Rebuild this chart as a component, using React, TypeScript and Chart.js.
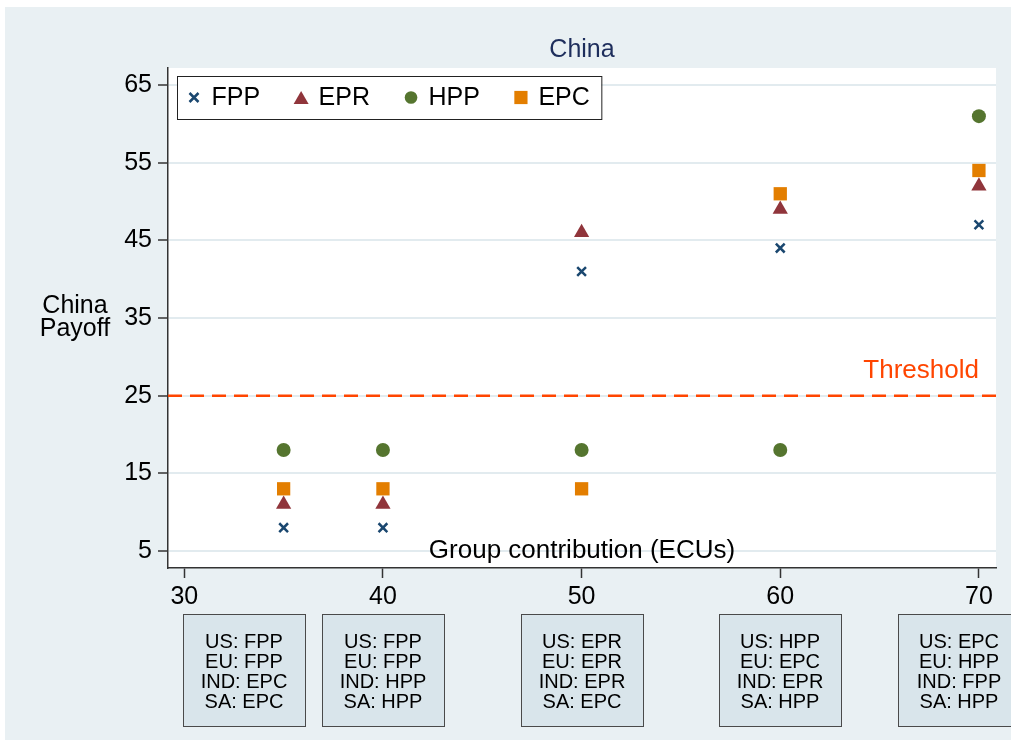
import React, { useEffect, useRef } from 'react';
import { Chart, registerables } from 'chart.js';

Chart.register(...registerables);

// ---------- data ----------
const contributions = [35, 40, 50, 60, 70];
const seriesNames = ['FPP', 'EPR', 'HPP', 'EPC'];
const fppPayoff = [8, 8, 41, 44, 47];
const eprPayoff = [11, 11, 46, 49, 52];
const hppPayoff = [18, 18, 18, 18, 61];
const epcPayoff = [13, 13, 13, 51, 54];
const threshold = 25;
const thresholdLabel = 'Threshold';

const yTickValues = [5, 15, 25, 35, 45, 55, 65];
const xTickValues = [30, 40, 50, 60, 70];
const xRange = [29.18, 70.86];
const yRange = [2.8, 67.2];

const chartTitle = 'China';
const yTitleLines = ['China', 'Payoff'];
const xTitle = 'Group contribution (ECUs)';

// strategy profile boxes under the axis (anchored at x values)
const boxAnchors = [33, 40, 50, 60, 69];
const usChoice = ['FPP', 'FPP', 'EPR', 'HPP', 'EPC'];
const euChoice = ['FPP', 'FPP', 'EPR', 'EPC', 'HPP'];
const indChoice = ['EPC', 'HPP', 'EPR', 'EPR', 'FPP'];
const saChoice = ['EPC', 'HPP', 'EPC', 'HPP', 'HPP'];

// ---------- styles ----------
const FONT = "'Liberation Sans', Arial, Helvetica, sans-serif";
const BG = '#e9f0f3';
const BOX_BG = '#d9e5eb';
const GRID = '#e2ebef';
const AXIS = '#333333';
const C_FPP = '#1a476f';
const C_EPR = '#90353b';
const C_HPP = '#55752f';
const C_EPC = '#e37e00';
const C_THR = '#ff4500';
const C_TITLE = '#1e2e5c';

const toPoints = (ys: number[]) => contributions.map((x, i) => ({ x, y: ys[i] }));

function drawMarker(ctx: CanvasRenderingContext2D, kind: string, x: number, y: number, color: string) {
  ctx.save();
  ctx.fillStyle = color;
  ctx.strokeStyle = color;
  if (kind === 'crossRot') {
    ctx.lineWidth = 2.5;
    const h = 4.5;
    ctx.beginPath();
    ctx.moveTo(x - h, y - h);
    ctx.lineTo(x + h, y + h);
    ctx.moveTo(x - h, y + h);
    ctx.lineTo(x + h, y - h);
    ctx.stroke();
  } else if (kind === 'triangle') {
    ctx.beginPath();
    ctx.moveTo(x, y - 6.5);
    ctx.lineTo(x + 7.5, y + 6.5);
    ctx.lineTo(x - 7.5, y + 6.5);
    ctx.closePath();
    ctx.fill();
  } else if (kind === 'circle') {
    ctx.beginPath();
    ctx.arc(x, y, 6.3, 0, Math.PI * 2);
    ctx.fill();
  } else {
    ctx.fillRect(x - 6.6, y - 6.6, 13.2, 13.2);
  }
  ctx.restore();
}

const decor = {
  id: 'decor',
  beforeDraw(chart: any) {
    const { ctx, chartArea: a, width, height } = chart;
    ctx.save();
    ctx.fillStyle = '#ffffff';
    ctx.fillRect(0, 0, width, height);
    ctx.fillStyle = BG;
    ctx.fillRect(5, 7, width - 5, height - 7);
    ctx.fillStyle = '#ffffff';
    ctx.fillRect(a.left, a.top, a.right - a.left, a.bottom - a.top);
    ctx.restore();
  },
  afterDraw(chart: any) {
    const { ctx, chartArea: a } = chart;
    const xs = chart.scales.x;
    const ys = chart.scales.y;
    const cx = (a.left + a.right) / 2;
    ctx.save();

    // title
    ctx.fillStyle = C_TITLE;
    ctx.font = `25px ${FONT}`;
    ctx.textAlign = 'center';
    ctx.textBaseline = 'alphabetic';
    ctx.fillText(chartTitle, cx, 57);

    // y title
    ctx.fillStyle = '#000';
    ctx.fillText(yTitleLines[0], 75, 313);
    ctx.fillText(yTitleLines[1], 75, 336);

    // x title (inside plot, Stata-style)
    ctx.font = `26px ${FONT}`;
    ctx.fillText(xTitle, cx, 557.5);

    // threshold label
    ctx.fillStyle = C_THR;
    ctx.textAlign = 'right';
    ctx.fillText(thresholdLabel, xs.getPixelForValue(70), ys.getPixelForValue(threshold) - 18);

    // legend
    const kinds = chart.data.datasets.filter((d: any) => d.legendKind).map((d: any) => ({ kind: d.legendKind, color: d.legendColor, label: d.label }));
    ctx.font = `25px ${FONT}`;
    const lx = 177, ly = 76, lh = 43;
    let cur = lx + 17;
    const items: any[] = [];
    kinds.forEach((k: any, i: number) => {
      const tw = ctx.measureText(k.label).width;
      items.push({ ...k, mx: cur, tx: cur + 17.5 });
      cur = cur + 17.5 + tw + (i < kinds.length - 1 ? 41 : 11.5);
    });
    ctx.fillStyle = '#ffffff';
    ctx.fillRect(lx, ly, cur - lx, lh);
    ctx.strokeStyle = '#222';
    ctx.lineWidth = 1;
    ctx.strokeRect(lx + 0.5, ly + 0.5, cur - lx, lh);
    const my = ly + lh / 2;
    items.forEach((it) => {
      drawMarker(ctx, it.kind, it.mx, my, it.color);
      ctx.fillStyle = '#000';
      ctx.textAlign = 'left';
      ctx.textBaseline = 'middle';
      ctx.fillText(it.label, it.tx, my + 1);
    });

    // strategy boxes
    ctx.textAlign = 'center';
    ctx.textBaseline = 'alphabetic';
    ctx.font = `20px ${FONT}`;
    boxAnchors.forEach((v, i) => {
      const bx = Math.round(xs.getPixelForValue(v));
      const left = bx - 61, top = 614, w = 122, h = 112;
      ctx.fillStyle = BOX_BG;
      ctx.fillRect(left, top, w, h);
      ctx.strokeStyle = '#4a4a4a';
      ctx.lineWidth = 1;
      ctx.strokeRect(left + 0.5, top + 0.5, w, h);
      ctx.fillStyle = '#000';
      const lines = [`US: ${usChoice[i]}`, `EU: ${euChoice[i]}`, `IND: ${indChoice[i]}`, `SA: ${saChoice[i]}`];
      lines.forEach((t, j) => ctx.fillText(t, bx, top + 34 + j * 20));
    });

    ctx.restore();
  },
};

export default function App() {
  const ref = useRef<HTMLCanvasElement>(null);
  useEffect(() => {
    const chart = new Chart(ref.current as HTMLCanvasElement, {
      type: 'scatter',
      data: {
        datasets: [
          {
            type: 'line',
            label: thresholdLabel,
            data: [{ x: xRange[0], y: threshold }, { x: xRange[1], y: threshold }],
            borderColor: C_THR,
            borderWidth: 2.5,
            borderDash: [14, 8],
            pointRadius: 0,
            fill: false,
            order: 10,
          } as any,
          {
            label: seriesNames[0],
            data: toPoints(fppPayoff),
            pointStyle: 'crossRot',
            pointRadius: 6.2,
            borderWidth: 2.5,
            borderColor: C_FPP,
            backgroundColor: C_FPP,
            order: 4,
            legendKind: 'crossRot',
            legendColor: C_FPP,
          } as any,
          {
            label: seriesNames[1],
            data: toPoints(eprPayoff),
            pointStyle: 'triangle',
            pointRadius: 8.8,
            borderWidth: 0,
            borderColor: C_EPR,
            backgroundColor: C_EPR,
            order: 3,
            legendKind: 'triangle',
            legendColor: C_EPR,
          } as any,
          {
            label: seriesNames[2],
            data: toPoints(hppPayoff),
            pointStyle: 'circle',
            pointRadius: 7,
            borderWidth: 0,
            borderColor: C_HPP,
            backgroundColor: C_HPP,
            order: 2,
            legendKind: 'circle',
            legendColor: C_HPP,
          } as any,
          {
            label: seriesNames[3],
            data: toPoints(epcPayoff),
            pointStyle: 'rect',
            pointRadius: 9.4,
            borderWidth: 0,
            borderColor: C_EPC,
            backgroundColor: C_EPC,
            order: 1,
            legendKind: 'rect',
            legendColor: C_EPC,
          } as any,
        ],
      },
      options: {
        responsive: false,
        animation: false,
        devicePixelRatio: 1,
        layout: { padding: { left: 0, top: 68, right: 15, bottom: 0 } },
        plugins: {
          legend: { display: false },
          tooltip: { enabled: false },
          title: { display: false },
        },
        scales: {
          x: {
            type: 'linear',
            min: xRange[0],
            max: xRange[1],
            afterBuildTicks: (s: any) => {
              s.ticks = xTickValues.map((value) => ({ value }));
            },
            afterFit: (s: any) => {
              s.height = 740 - 568;
            },
            grid: {
              drawOnChartArea: false,
              drawTicks: true,
              tickLength: 10,
              tickColor: AXIS,
              tickWidth: 1.5,
            },
            border: { display: true, color: AXIS, width: 1.5 },
            ticks: {
              color: '#000',
              font: { family: FONT, size: 25 },
              padding: 4,
              maxRotation: 0,
              autoSkip: false,
              callback: (v: any) => String(v),
            },
          },
          y: {
            type: 'linear',
            min: yRange[0],
            max: yRange[1],
            afterBuildTicks: (s: any) => {
              s.ticks = yTickValues.map((value) => ({ value }));
            },
            afterFit: (s: any) => {
              s.width = 168;
            },
            grid: {
              color: GRID,
              lineWidth: 2,
              drawTicks: true,
              tickLength: 10,
              tickColor: AXIS,
              tickWidth: 1.5,
            },
            border: { display: true, color: AXIS, width: 1.5 },
            ticks: {
              color: '#000',
              font: { family: FONT, size: 25 },
              padding: 6,
              autoSkip: false,
              callback: (v: any) => String(v),
            },
          },
        },
      },
      plugins: [decor],
    });
    return () => chart.destroy();
  }, []);
  return (
    <div style={{ position: 'absolute', left: 0, top: 0, width: 1011, height: 740 }}>
      <canvas ref={ref} width={1011} height={740} style={{ display: 'block' }} />
    </div>
  );
}
